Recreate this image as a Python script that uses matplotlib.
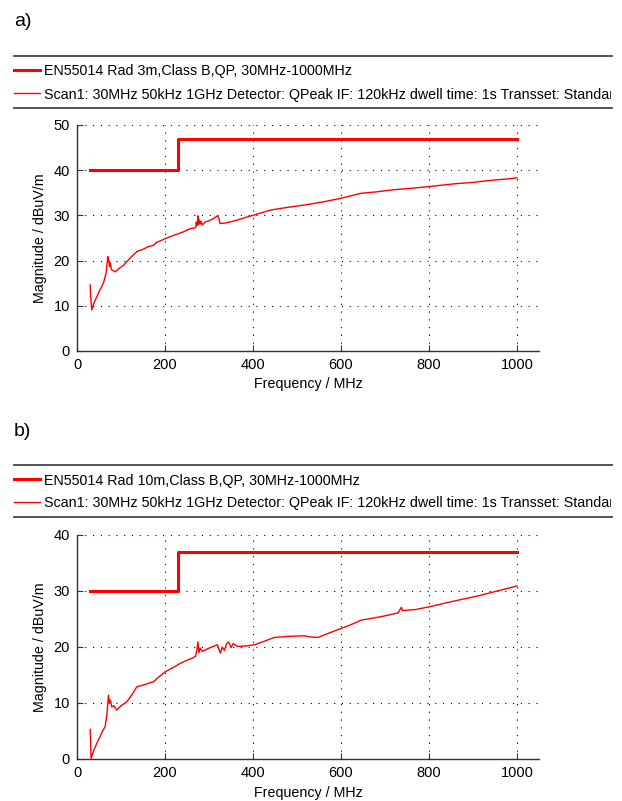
import numpy as np
import matplotlib
matplotlib.use("Agg")
import matplotlib.pyplot as plt
from matplotlib.lines import Line2D
from matplotlib.transforms import Bbox

plt.rcParams['font.family'] = ['Liberation Sans', 'DejaVu Sans']

# limit lines (step at 230 MHz)
limit_freq = [30, 230, 230, 1000]
limit_a = [40, 40, 47, 47]
limit_b = [30, 30, 37, 37]

# measured scan a) 3m
freq_a = [30, 31, 33.5, 38, 45, 52, 60, 66, 70, 72, 74, 76, 78, 82, 87, 95, 106, 120, 136, 150,
          160, 174, 180, 190, 201, 220, 243, 255, 265, 270, 271, 273, 275, 276, 278, 280, 282, 285,
          292, 300, 310, 319, 322, 325, 335, 350, 365, 385, 403, 420, 441, 480, 517, 560, 600,
          646, 680, 722, 760, 802, 830, 859, 900, 935, 970, 1000]
scan_a = [14.6, 12, 9.1, 10.5, 12, 13.5, 15, 17.2, 20.9, 20.0, 18.7, 19.5, 18, 17.8, 17.5, 18.2, 19, 20.5, 22, 22.5,
          23, 23.4, 24, 24.4, 24.9, 25.6, 26.4, 27, 27.2, 27.3, 28.5, 27.8, 29.9, 28.0, 29.0, 28.1, 28.7, 27.9,
          28.6, 28.8, 29.3, 29.9, 29.5, 28.2, 28.3, 28.6, 29.0, 29.6, 30.1, 30.6, 31.2, 31.8, 32.3, 33.0, 33.8,
          34.9, 35.2, 35.7, 36.0, 36.4, 36.7, 37.0, 37.3, 37.7, 38.0, 38.3]

# measured scan b) 10m
freq_b = [30, 31, 32, 38, 45, 52.5, 58, 64, 68, 71.5, 74, 76, 79, 84, 90, 100, 113, 125, 136, 150,
          162, 174, 185, 201, 218, 235, 252, 265, 269, 272, 275, 277, 280, 285, 300, 310, 319, 323,
          326, 330, 335, 340, 345, 350, 355, 365, 385, 403, 425, 448, 480, 517, 530, 547, 570, 593,
          620, 646, 690, 730, 735, 737, 740, 770, 802, 840, 874, 910, 950, 980, 1000]
scan_b = [5.3, 3, 0.1, 1.5, 2.8, 4.0, 5, 5.8, 8, 11.4, 10, 10.5, 9.3, 9.5, 8.75, 9.5, 10.2, 11.5, 12.9, 13.2,
          13.5, 13.8, 14.6, 15.6, 16.3, 17.1, 17.7, 18.1, 18.3, 19.2, 20.9, 19.0, 19.8, 19.2, 19.8, 20.1, 20.4, 19.5,
          18.9, 20.0, 19.4, 20.6, 20.9, 19.9, 20.6, 20.1, 20.2, 20.4, 21.0, 21.7, 21.9, 22.0, 21.8, 21.7, 22.4, 23.1,
          23.9, 24.8, 25.4, 26.1, 26.8, 27.1, 26.5, 26.7, 27.2, 27.9, 28.5, 29.1, 29.9, 30.5, 30.9]

W, H = 622, 801
fig = plt.figure(figsize=(W / 100, H / 100), dpi=100)


def fx(px):
    return px / W


def fy(py):
    return 1 - py / H


def panel(letter, top_px, limit_label, limit_vals, freq, scan, ymax, ax_top, ax_bot):
    fig.text(fx(14), fy(top_px - 34), letter, fontsize=14, va='center', ha='left')
    # legend block with rules above and below
    for yy in (top_px, top_px + 52):
        fig.add_artist(Line2D([fx(14), fx(612)], [fy(yy), fy(yy)], color='#444444', lw=1.3,
                              transform=fig.transFigure))
    entries = [(limit_label, 2.2),
               ("Scan1: 30MHz 50kHz 1GHz Detector: QPeak IF: 120kHz dwell time: 1s Transset: Standard", 1.0)]
    for i, (txt, lw) in enumerate(entries):
        yy = top_px + 14 + i * 23
        fig.add_artist(Line2D([fx(14), fx(40)], [fy(yy), fy(yy)], color='red', lw=lw,
                              transform=fig.transFigure))
        t = fig.text(fx(44), fy(yy), txt, fontsize=10.3, va='center_baseline', ha='left')
        t.set_clip_box(Bbox.from_extents(0, 0, 611, H))
        t.set_clip_on(True)

    ax = fig.add_axes([fx(77), fy(ax_bot), fx(539) - fx(77), fy(ax_top) - fy(ax_bot)])
    ax.plot(limit_freq, limit_vals, color='red', lw=2.2)
    ax.plot(freq, scan, color='red', lw=1.0)
    ax.set_xlim(0, 1050)
    ax.set_ylim(0, ymax)
    ax.set_xticks(np.arange(0, 1001, 200))
    ax.set_yticks(np.arange(0, ymax + 1, 10))
    ax.grid(True, color='black', linestyle=(0, (1, 6)), lw=0.8)
    for s in ('top', 'right'):
        ax.spines[s].set_visible(False)
    for s in ('left', 'bottom'):
        ax.spines[s].set_color('#333333')
        ax.spines[s].set_linewidth(1.0)
    ax.tick_params(direction='in', length=4, labelsize=10.5, color='#333333', pad=5)
    ax.set_xlabel("Frequency / MHz", fontsize=10.3, labelpad=4)
    ax.set_ylabel("Magnitude / dBuV/m", fontsize=10.3, labelpad=5)
    return ax


panel("a)", 56, "EN55014 Rad 3m,Class B,QP, 30MHz-1000MHz", limit_a, freq_a, scan_a, 50, 125, 351)
panel("b)", 465, "EN55014 Rad 10m,Class B,QP, 30MHz-1000MHz", limit_b, freq_b, scan_b, 40, 535, 759)

fig.savefig("out.png", dpi=100)
